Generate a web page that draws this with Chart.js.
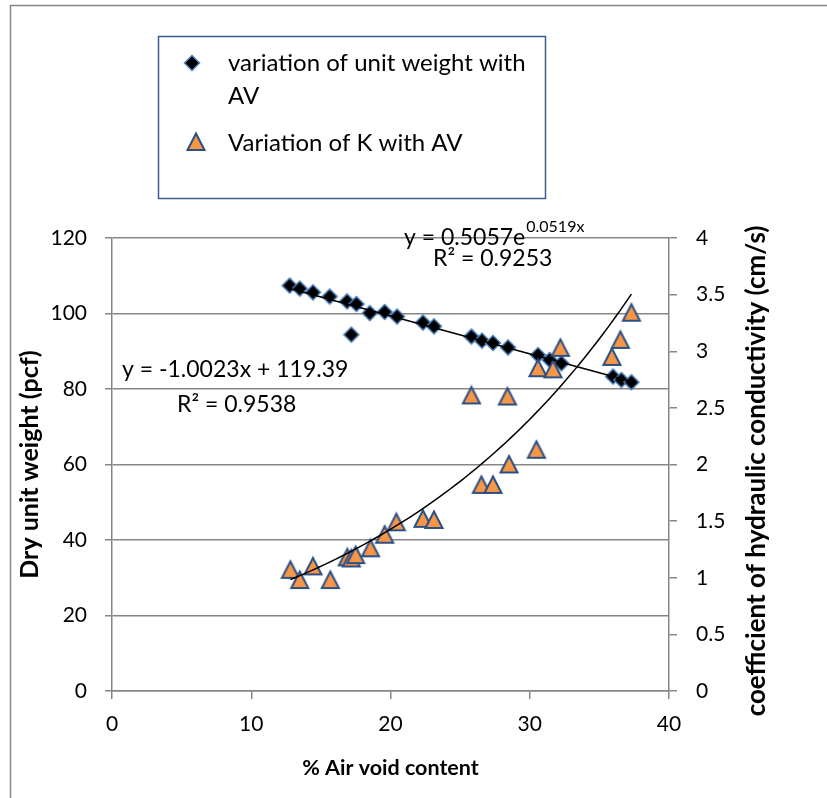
<!DOCTYPE html>
<html>
<head>
<meta charset="utf-8">
<script src="https://cdn.jsdelivr.net/npm/chart.js@4.4.1/dist/chart.umd.min.js"></script>
<style>
  html, body { margin: 0; padding: 0; background: #fff; }
</style>
</head>
<body>
<canvas id="chart" width="827" height="798"></canvas>
<script>
// % air void content for the unit weight points, and dry unit weight (pcf)
var airVoidUW = [12.76, 13.48, 14.43, 15.63, 16.88, 17.55, 17.19, 18.51, 19.58, 20.47, 22.33, 23.12,
                 25.81, 26.57, 27.36, 28.44, 30.59, 31.43, 32.27, 35.98, 36.58, 37.30];
var unitWeight = [107.4, 106.6, 105.6, 104.5, 103.2, 102.5, 94.4, 100.1, 100.4, 99.2, 97.6, 96.6,
                  93.9, 92.8, 92.2, 91.0, 89.0, 87.7, 86.8, 83.3, 82.4, 81.8];

// % air void content for the K points, and hydraulic conductivity (cm/s)
var airVoidK = [12.81, 13.48, 14.43, 15.68, 16.90, 17.19, 17.50, 18.56, 19.58, 20.42, 22.33, 23.12,
                25.81, 26.53, 27.36, 28.40, 28.51, 30.48, 30.59, 31.67, 32.20, 35.90, 36.51, 37.30];
var kValues = [1.07, 0.98, 1.10, 0.98, 1.18, 1.17, 1.20, 1.26, 1.38, 1.49, 1.52, 1.51,
               2.61, 1.82, 1.82, 2.60, 2.00, 2.13, 2.85, 2.84, 3.03, 2.95, 3.10, 3.34];

// trendlines as printed on the chart
var linSlope = -1.0023, linIntercept = 119.39, linR2 = '0.9538';
var expCoef = 0.5057, expRate = 0.0519, expR2 = '0.9253';

var gridGrey = '#868686';
Chart.defaults.font.family = 'Lato';
Chart.defaults.color = '#000';

// trendline points over the range of the data
var linXs = [Math.min.apply(null, airVoidUW), Math.max.apply(null, airVoidUW)];
var linLine = linXs.map(function(x) { return {x: x, y: linIntercept + linSlope * x}; });
var expLine = [];
var k0 = Math.min.apply(null, airVoidK), k1 = Math.max.apply(null, airVoidK);
for (var i = 0; i <= 60; i++) {
    var xv = k0 + (k1 - k0) * i / 60;
    expLine.push({x: xv, y: expCoef * Math.exp(expRate * xv)});
}

function markerCanvas(kind) {
    var c = document.createElement('canvas');
    c.width = 22; c.height = 22;
    var g = c.getContext('2d');
    g.lineJoin = 'miter';
    if (kind === 'tri') {
        g.beginPath();
        g.moveTo(11, 2.5); g.lineTo(19.5, 19); g.lineTo(2.5, 19); g.closePath();
        g.fillStyle = '#F79646'; g.fill();
        g.lineWidth = 2; g.strokeStyle = '#2C5086'; g.stroke();
    } else {
        g.beginPath();
        g.moveTo(11, 3.5); g.lineTo(18.5, 11); g.lineTo(11, 18.5); g.lineTo(3.5, 11); g.closePath();
        g.fillStyle = '#000'; g.fill();
        g.lineWidth = 1.5; g.strokeStyle = '#4A7EBB'; g.stroke();
    }
    return c;
}
var diamondImg = markerCanvas('dia');
var triImg = markerCanvas('tri');

var overlay = {
    id: 'overlay',
    beforeDraw: function(chart) {
        var ctx = chart.ctx;
        ctx.save();
        ctx.fillStyle = '#fff';
        ctx.fillRect(0, 0, chart.width, chart.height);
        ctx.strokeStyle = gridGrey; ctx.lineWidth = 1.5;
        ctx.beginPath();
        ctx.moveTo(10.5, chart.height); ctx.lineTo(10.5, 5.5); ctx.lineTo(chart.width, 5.5);
        ctx.stroke();
        ctx.restore();
    },
    afterDraw: function(chart) {
        var ctx = chart.ctx;
        ctx.save();
        // legend
        ctx.strokeStyle = '#385D8A'; ctx.lineWidth = 1.5;
        ctx.strokeRect(158.5, 36.5, 387, 162);
        ctx.drawImage(diamondImg, 181, 52);
        ctx.drawImage(triImg, 185, 131);
        ctx.fillStyle = '#000';
        ctx.textBaseline = 'middle'; ctx.textAlign = 'left';
        ctx.font = '24px Lato';
        ctx.fillText('variation of unit weight with', 228, 63);
        ctx.fillText('AV', 228, 96);
        ctx.fillText('Variation of K with AV', 228, 143);

        // trendline equations
        ctx.font = '23px Lato';
        ctx.fillText('y = -1.0023x + 119.39', 122, 370);
        ctx.fillText('R\u00b2 = ' + linR2, 177, 405);
        ctx.fillText('y = 0.5057e', 404, 238);
        var w = ctx.measureText('y = 0.5057e').width;
        ctx.font = '16px Lato';
        ctx.fillText('0.0519x', 404 + w + 1, 227);
        ctx.font = '23px Lato';
        ctx.fillText('R\u00b2 = ' + expR2, 433, 259);

        // right axis title, reading bottom to top
        ctx.font = 'bold 26px Lato';
        ctx.textAlign = 'center';
        ctx.translate(757, 471);
        ctx.rotate(-Math.PI / 2);
        ctx.fillText('coefficient of hydraulic conductivity (cm/s)', 0, 0);
        ctx.restore();
    }
};

new Chart(document.getElementById('chart'), {
    type: 'scatter',
    data: {
        datasets: [
            {
                label: 'linear trend',
                type: 'line',
                data: linLine,
                yAxisID: 'y',
                borderColor: '#000',
                borderWidth: 1.5,
                pointRadius: 0,
                fill: false,
                order: 0
            },
            {
                label: 'exponential trend',
                type: 'line',
                data: expLine,
                yAxisID: 'y1',
                borderColor: '#000',
                borderWidth: 1.5,
                pointRadius: 0,
                tension: 0,
                fill: false,
                order: 0
            },
            {
                label: 'Variation of K with AV',
                data: airVoidK.map(function(x, i) { return {x: x, y: kValues[i]}; }),
                yAxisID: 'y1',
                pointStyle: triImg,
                order: 1
            },
            {
                label: 'variation of unit weight with AV',
                data: airVoidUW.map(function(x, i) { return {x: x, y: unitWeight[i]}; }),
                yAxisID: 'y',
                pointStyle: diamondImg,
                order: 2
            }
        ]
    },
    options: {
        responsive: false,
        animation: false,
        layout: { padding: { top: 238, left: 0, right: 0, bottom: 0 } },
        plugins: {
            legend: { display: false },
            tooltip: { enabled: false }
        },
        scales: {
            x: {
                type: 'linear',
                min: 0, max: 40,
                ticks: { stepSize: 10, font: { size: 21 }, padding: 13 },
                grid: { drawOnChartArea: false, tickLength: 8, color: gridGrey, lineWidth: 1.5 },
                border: { color: gridGrey, width: 1.5 },
                title: { display: true, text: '% Air void content', font: { size: 21.5, weight: 'bold' }, padding: { top: 10, bottom: 17 } },
                afterFit: function(s) { s.height = 107; }
            },
            y: {
                position: 'left',
                min: 0, max: 120,
                ticks: { stepSize: 20, font: { size: 21 }, padding: 18 },
                grid: { tickLength: 7, color: gridGrey, lineWidth: 1.5 },
                border: { color: gridGrey, width: 1.5 },
                title: { display: true, text: 'Dry unit weight (pcf)', font: { size: 25, weight: 'bold' }, padding: { top: 15, bottom: 0 } },
                afterFit: function(s) { s.width = 112; }
            },
            y1: {
                position: 'right',
                min: 0, max: 4,
                ticks: { stepSize: 0.5, font: { size: 21 }, padding: 19, callback: function(v) { return String(v); } },
                grid: { drawOnChartArea: false, tickLength: 8, color: gridGrey, lineWidth: 1.5 },
                border: { color: gridGrey, width: 1.5 },
                afterFit: function(s) { s.width = 158; }
            }
        }
    },
    plugins: [overlay]
});
</script>
</body>
</html>
